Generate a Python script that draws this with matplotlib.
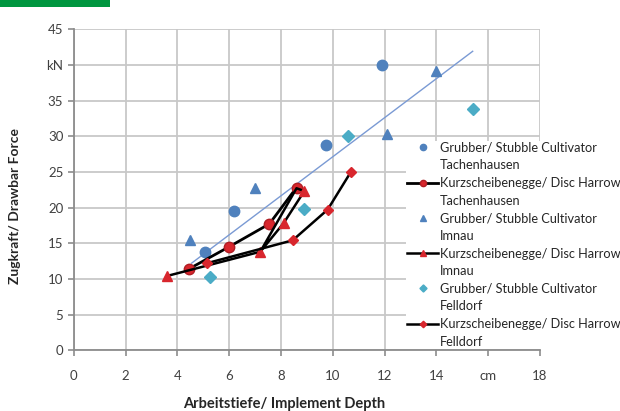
import matplotlib.pyplot as plt
from matplotlib.lines import Line2D
from matplotlib.patches import Rectangle

plt.rcParams['font.family'] = ['Lato', 'DejaVu Sans']

# Grubber / Stubble Cultivator (points only)
grub_tach_x = [5.05, 6.2, 9.75, 11.9]
grub_tach_y = [13.7, 19.5, 28.8, 40.0]
grub_imnau_x = [4.5, 7.0, 12.1, 14.0]
grub_imnau_y = [15.4, 22.8, 30.3, 39.2]
grub_fell_x = [5.25, 8.9, 10.6, 15.4]
grub_fell_y = [10.2, 19.8, 30.0, 33.8]

# Kurzscheibenegge / Disc Harrow (lines with markers)
disc_tach_x = [4.45, 6.0, 7.55, 8.6]
disc_tach_y = [11.4, 14.5, 17.7, 22.8]
disc_imnau_x = [3.6, 7.2, 8.1, 8.9, 8.6, 7.2]
disc_imnau_y = [10.4, 13.8, 17.8, 22.3, 22.7, 13.8]
disc_fell_x = [5.15, 8.45, 9.8, 10.7]
disc_fell_y = [12.2, 15.4, 19.7, 25.0]

# Trendlinie Grubber
trend_x = [4.55, 15.4]
trend_y = [12.2, 41.9]

xticks = [0, 2, 4, 6, 8, 10, 12, 14, 16, 18]
xticklabels = ['0', '2', '4', '6', '8', '10', '12', '14', 'cm', '18']
yticks = [0, 5, 10, 15, 20, 25, 30, 35, 40, 45]
yticklabels = ['0', '5', '10', '15', '20', '25', '30', '35', 'kN', '45']

legend_labels = [
    ('Grubber/ Stubble Cultivator', 'Tachenhausen'),
    ('Kurzscheibenegge/ Disc Harrow', 'Tachenhausen'),
    ('Grubber/ Stubble Cultivator', 'Imnau'),
    ('Kurzscheibenegge/ Disc Harrow', 'Imnau'),
    ('Grubber/ Stubble Cultivator', 'Felldorf'),
    ('Kurzscheibenegge/ Disc Harrow', 'Felldorf'),
]

blue = '#4f81bd'
teal = '#4bacc6'
red = '#d8262d'

fig = plt.figure(figsize=(6.2, 4.11), dpi=100)
ax = fig.add_axes([0.119, 0.148, 0.752, 0.781])

ax.plot(trend_x, trend_y, color='#7a9ad4', linewidth=1.0, zorder=2)

h1, = ax.plot(grub_tach_x, grub_tach_y, 'o', color=blue, markersize=7.5, zorder=3)
h2, = ax.plot(disc_tach_x, disc_tach_y, '-o', color='black', linewidth=2.0,
              markerfacecolor=red, markeredgecolor='#b01e24', markersize=7.5, zorder=4)
h3, = ax.plot(grub_imnau_x, grub_imnau_y, '^', color=blue, markersize=7, zorder=3)
h4, = ax.plot(disc_imnau_x, disc_imnau_y, '-^', color='black', linewidth=1.8,
              markerfacecolor=red, markeredgecolor=red, markersize=7, zorder=4,
              markevery=[0, 1, 2, 3])
h5, = ax.plot(grub_fell_x, grub_fell_y, 'D', color=teal, markersize=6, zorder=3)
h6, = ax.plot(disc_fell_x, disc_fell_y, '-D', color='black', linewidth=1.8,
              markerfacecolor=red, markeredgecolor=red, markersize=5.5, zorder=4)

ax.set_xlim(0, 18)
ax.set_ylim(0, 45)
ax.set_xticks(xticks)
ax.set_xticklabels(xticklabels)
ax.set_yticks(yticks)
ax.set_yticklabels(yticklabels)
ax.grid(True, color='#c8c8c8', linewidth=1.3)
ax.set_axisbelow(True)
for s in ['top', 'right']:
    ax.spines[s].set_visible(False)
for s in ['left', 'bottom']:
    ax.spines[s].set_color('#8c8c8c')
    ax.spines[s].set_linewidth(1.3)
ax.tick_params(colors='#8c8c8c', labelcolor='#404040', labelsize=9.5,
               length=4, width=1.2)
ax.tick_params(axis='x', pad=10)

fig.text(0.024, 0.50, 'Zugkraft/ Drawbar Force', rotation=90, ha='center',
         va='center', fontsize=10, fontweight='bold', color='#262626')
fig.text(0.458, 0.018, 'Arbeitstiefe/ Implement Depth', ha='center',
         va='center', fontsize=10.5, fontweight='bold', color='#262626')

# Legende: jede Zeile als eigener Eintrag, Symbol nur bei der ersten Zeile
blank = Line2D([], [], linestyle='none')
handles, labels = [], []
for h, (l1, l2) in zip([h1, h2, h3, h4, h5, h6], legend_labels):
    handles += [h, blank]
    labels += [l1, l2]

leg = ax.legend(handles, labels, loc='upper left', bbox_to_anchor=(0.655, 0.658),
                bbox_transform=fig.transFigure, frameon=True, fontsize=9.2,
                handlelength=2.4, handletextpad=0.15, labelspacing=0.44,
                borderpad=0.1, borderaxespad=0, markerscale=0.6)
leg.get_frame().set_facecolor('white')
leg.get_frame().set_edgecolor('none')
leg.get_frame().set_alpha(1)
for t in leg.get_texts():
    t.set_color('#262626')

fig.patches.append(Rectangle((0, 0.983), 0.177, 0.017, transform=fig.transFigure,
                             facecolor='#00963f', edgecolor='none'))

fig.savefig('out.png', dpi=100)
